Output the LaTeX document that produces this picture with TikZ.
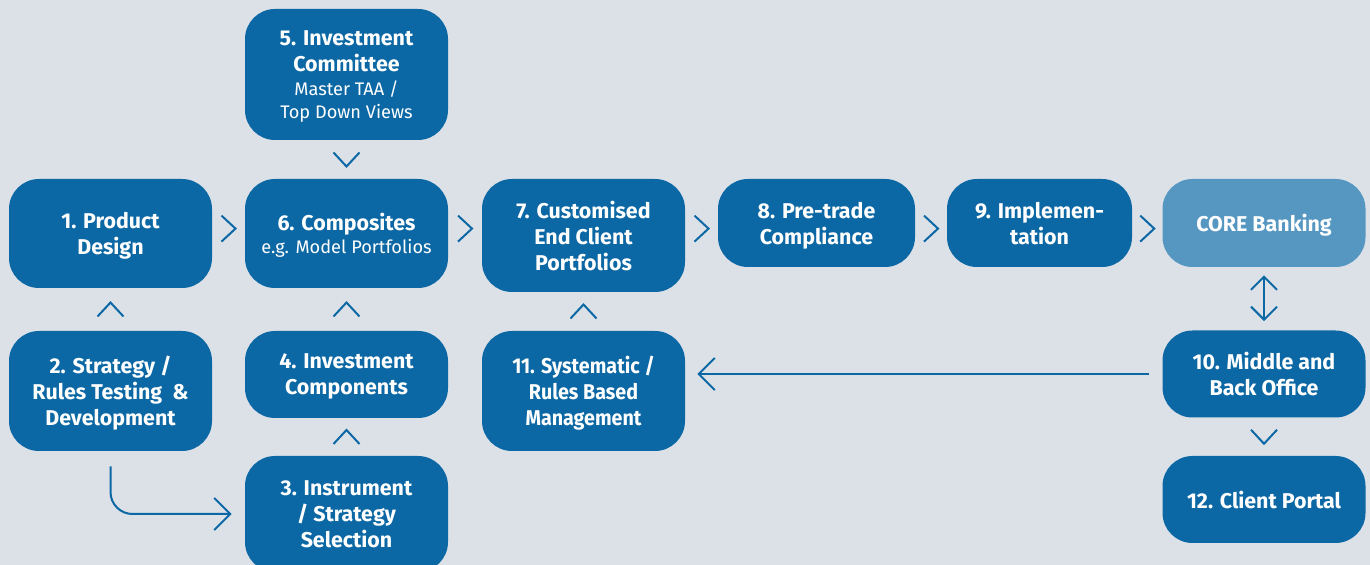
\documentclass[tikz,border=0pt]{standalone}
\usepackage{fontspec}
\setmainfont{Fira Sans}
\newfontfamily\condfont{Fira Sans}[FakeStretch=0.92]
\usetikzlibrary{calc,arrows.meta}

\definecolor{bgcol}{RGB}{220,225,232}
\definecolor{boxblue}{RGB}{12,104,164}
\definecolor{coreblue}{RGB}{86,151,194}

\newcommand{\subline}[1]{{\mdseries\fontsize{9.1}{11.5}\selectfont #1}}

\begin{document}
\begin{tikzpicture}
  [x=0.5pt,y=-0.5pt,
   box/.style={rectangle,rounded corners=15pt,fill=boxblue,text=white,
     font=\fontsize{10.7}{13}\selectfont\bfseries,align=center,
     minimum width=101.5pt,inner sep=0pt,text depth=0pt},
   link/.style={draw=boxblue,line width=1pt},
   barb/.style={-{Straight Barb[length=8pt,width=16pt]}},
   chev/.pic={\draw[link,line join=miter] (-7,-13) -- (7,0) -- (-7,13);}]

  \useasboundingbox (0,0) rectangle (1370,565);
  \fill[bgcol] (0,0) rectangle (1370,565);
  \clip (0,0) rectangle (1370,565);

  \node[box,minimum height=65.5pt] (n5) at (346.5,74.5)
    {5. Investment\\Committee\\[-1pt]\subline{Master TAA /}\\[-1.5pt]\subline{Top Down Views}};
  \node[box,minimum height=54.5pt] (n1) at (110.5,233.5) {1. Product\\Design};
  \node[box,minimum height=54.5pt] (n6) at (346.5,233.5)
    {6. Composites\\[-1.5pt]\subline{e.g. Model Portfolios}};
  \node[box,minimum height=56.5pt] (n7) at (583.5,235.5) {7. Customised\\End Client\\Portfolios};
  \node[box,minimum height=44pt,minimum width=98.5pt] (n8) at (816.5,223) {8. Pre-trade\\Compliance};
  \node[box,minimum height=44pt,minimum width=92.5pt] (n9) at (1039.5,223) {9. Implemen-\\tation};
  \node[box,minimum height=44pt,fill=coreblue] (core) at (1264,223) {CORE Banking};

  \node[box,minimum height=60pt] (n2) at (110.5,391)
    {2. Strategy /\\Rules Testing\ \ \&\\Development};
  \node[box,minimum height=43.5pt] (n4) at (346.5,374.5) {4. Investment\\Components};
  \node[box,minimum height=60pt] (n11) at (583.5,391)
    {\condfont 11. Systematic /\\\condfont Rules Based\\\condfont Management};
  \node[box,minimum height=43.5pt] (n10) at (1264,374) {10. Middle and\\Back Office};

  \node[box,minimum height=58pt] (n3) at (346.5,514) {3. Instrument\\/ Strategy\\Selection};
  \node[box,minimum height=43.5pt] (n12) at (1264,499.5) {12. Client Portal};

  % chevrons along the top row
  \foreach \from/\to in {n1/n6,n6/n7,n7/n8,n8/n9,n9/core}
    \pic at ($(\from.north east)!.5!(\to.north west)+(0,50)$) {chev};

  % chevrons up and down
  \foreach \from/\to in {n2/n1,n4/n6,n3/n4,n11/n7}
    \pic[rotate=90] at ($(\from.north)!.5!(\to.south)$) {chev};
  \foreach \from/\to in {n5/n6,n10/n12}
    \pic[rotate=-90] at ($(\from.south)!.5!(\to.north)$) {chev};

  \draw[link,{Straight Barb[length=6.5pt,width=13pt]}-{Straight Barb[length=6.5pt,width=13pt]},
    shorten <=4pt,shorten >=4.5pt] (core) -- (n10);
  \draw[link,barb,shorten <=6.5pt,shorten >=6pt] (n10) -- (n10 -| n11.east);
  \draw[link,barb,rounded corners=11pt,shorten <=7.5pt,shorten >=6.5pt] (n2.south) |- (n3.west);
\end{tikzpicture}
\end{document}
